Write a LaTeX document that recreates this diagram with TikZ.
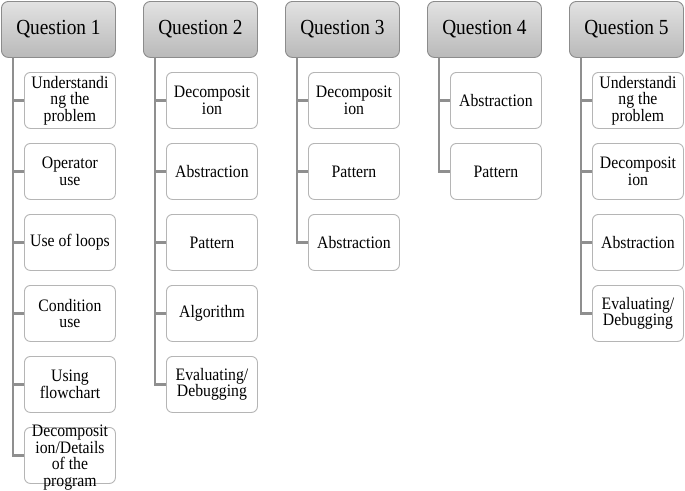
\documentclass[tikz,border=0pt]{standalone}
\usepackage{fontspec}
\setmainfont{Liberation Serif}[FakeStretch=0.9]
\definecolor{htop}{HTML}{E2E2E2}
\definecolor{hbot}{HTML}{B9B9B9}
\definecolor{hdraw}{HTML}{8C8C8C}
\definecolor{idraw}{HTML}{B5B5B5}
\definecolor{cgray}{HTML}{8F8F8F}
\begin{document}
\begin{tikzpicture}[x=1pt,y=-1pt,
  head/.style={draw=hdraw, line width=0.9pt, rounded corners=7pt, top color=htop, bottom color=hbot,
    minimum width=114pt, minimum height=56pt, inner sep=0pt, anchor=north west,
    font=\fontsize{21.5}{24}\selectfont},
  item/.style={draw=idraw, line width=0.9pt, rounded corners=6pt, fill=white,
    minimum width=91pt, minimum height=56pt, inner sep=0pt, anchor=north west, align=center,
    font=\fontsize{17.5}{16.5}\selectfont},
  itemtext/.style={align=center, inner sep=0pt, font=\fontsize{17.5}{16.5}\selectfont},
  conn/.style={draw=cgray, line width=2.2pt}]
\useasboundingbox (0,0) rectangle (685,490);

% ---------- Question 1 ----------
\node[head] (q1) at (1,1) {Question 1};
\coordinate (q1x) at (13,57);
\node[item] (q1a) at (24,72) {Understandi\\ng the\\problem};
\node[item] (q1b) at (24,143) {Operator\\use};
\node[item] (q1c) at (24,214) {Use of loops};
\node[item] (q1d) at (24,285) {Condition\\use};
\node[item] (q1e) at (24,356) {Using\\flowchart};
\node[item] (q1f) at (24,427) {};
\node[itemtext] (q1ft) at ([yshift=-2pt]q1f.center) {Decomposit\\ion/Details\\of the\\program};
\draw[conn] (q1x) |- (q1f.west);
\foreach \n in {q1a,q1b,q1c,q1d,q1e} \draw[conn] (\n.west) -- (\n.west -| q1x);

% ---------- Question 2 ----------
\node[head] (q2) at (143,1) {Question 2};
\coordinate (q2x) at (155,57);
\node[item] (q2a) at (166,72) {Decomposit\\ion};
\node[item] (q2b) at (166,143) {Abstraction};
\node[item] (q2c) at (166,214) {Pattern};
\node[item] (q2d) at (166,285) {Algorithm};
\node[item] (q2e) at (166,356) {Evaluating/\\Debugging};
\draw[conn] (q2x) |- (q2e.west);
\foreach \n in {q2a,q2b,q2c,q2d} \draw[conn] (\n.west) -- (\n.west -| q2x);

% ---------- Question 3 ----------
\node[head] (q3) at (285,1) {Question 3};
\coordinate (q3x) at (297,57);
\node[item] (q3a) at (308,72) {Decomposit\\ion};
\node[item] (q3b) at (308,143) {Pattern};
\node[item] (q3c) at (308,214) {Abstraction};
\draw[conn] (q3x) |- (q3c.west);
\foreach \n in {q3a,q3b} \draw[conn] (\n.west) -- (\n.west -| q3x);

% ---------- Question 4 ----------
\node[head] (q4) at (427,1) {Question 4};
\coordinate (q4x) at (439,57);
\node[item] (q4a) at (450,72) {Abstraction};
\node[item] (q4b) at (450,143) {Pattern};
\draw[conn] (q4x) |- (q4b.west);
\draw[conn] (q4a.west) -- (q4a.west -| q4x);

% ---------- Question 5 ----------
\node[head] (q5) at (569,1) {Question 5};
\coordinate (q5x) at (581,57);
\node[item] (q5a) at (592,72) {Understandi\\ng the\\problem};
\node[item] (q5b) at (592,143) {Decomposit\\ion};
\node[item] (q5c) at (592,214) {Abstraction};
\node[item] (q5d) at (592,285) {Evaluating/\\Debugging};
\draw[conn] (q5x) |- (q5d.west);
\foreach \n in {q5a,q5b,q5c} \draw[conn] (\n.west) -- (\n.west -| q5x);
\end{tikzpicture}
\end{document}
